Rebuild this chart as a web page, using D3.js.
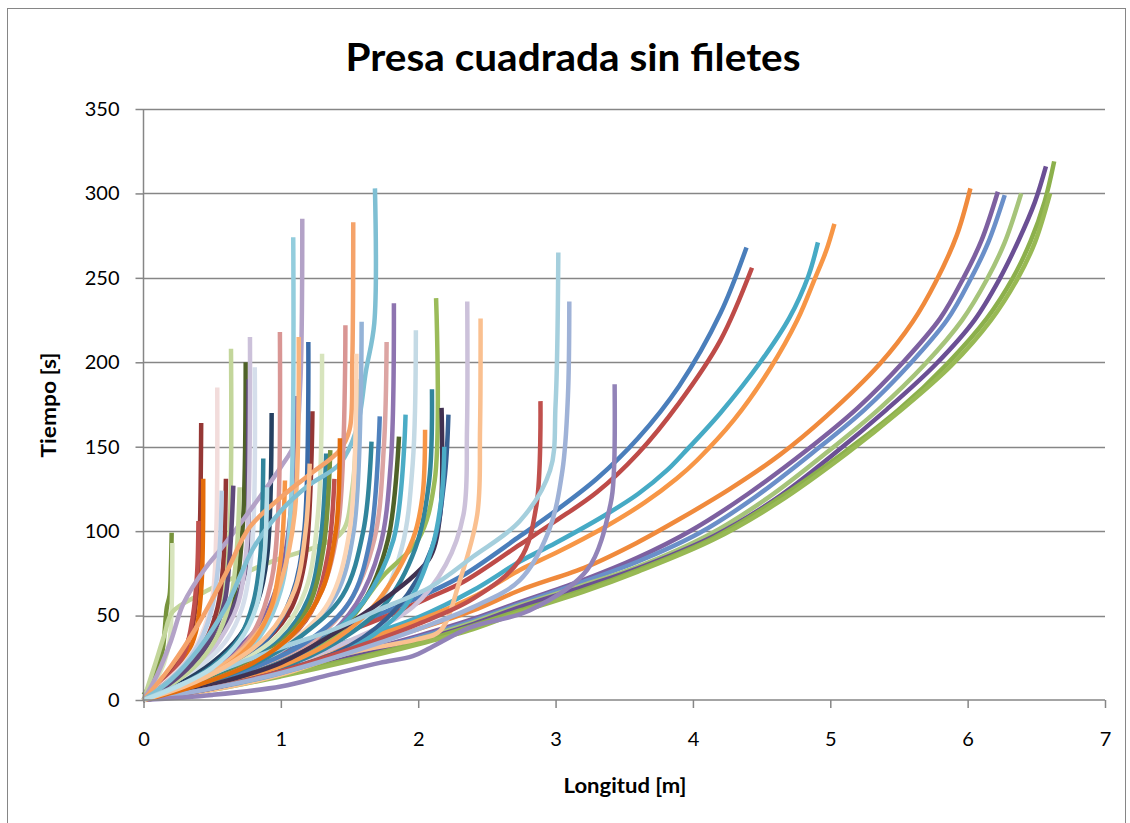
<!DOCTYPE html>
<html><head><meta charset="utf-8">
<script src="https://cdn.jsdelivr.net/npm/d3@7"></script>
<style>body{margin:0;background:#fff}svg{display:block}</style>
</head><body><svg id="c" width="1130" height="823"></svg>
<script>
const chartTitle = "Presa cuadrada sin filetes";
const xTitle = "Longitud [m]";
const yTitle = "Tiempo [s]";
const xTicks = [0,1,2,3,4,5,6,7];
const yTicks = [0,50,100,150,200,250,300,350];

// long series (right side)
const s01 = [[0,0],[0.25,7],[0.5,14],[1.0,28],[1.5,43],[1.84,55],[2.09,64],[2.33,74],[2.74,97],[3.0,112],[3.3,131],[3.6,155],[3.9,186],[4.2,229],[4.39,268]];
const s02 = [[0,0],[0.25,7],[0.5,13],[1.0,27],[1.5,41],[1.84,52],[2.09,61],[2.33,70],[2.74,92],[3.0,106],[3.3,123],[3.6,146],[3.9,176],[4.2,213],[4.43,256]];
const s03 = [[0,0],[0.25,5],[0.5,11],[1.0,23],[1.5,35],[2.0,49],[2.4,65],[2.74,82],[3.0,93],[3.35,109],[3.6,122],[3.81,136],[3.93,146],[4.2,170],[4.49,200],[4.7,226],[4.84,251],[4.91,271]];
const s04 = [[0,0],[0.25,5],[0.5,10],[1.0,22],[1.5,33],[2.0,47],[2.4,61],[2.74,77],[3.0,87],[3.35,102],[3.65,117],[3.88,131],[4.03,142],[4.3,166],[4.56,196],[4.76,225],[4.89,250],[4.97,266],[5.03,282]];
const s05 = [[0,0],[0.5,9],[1.0,19],[1.5,30],[2.0,42],[2.4,53],[2.74,65],[3.23,79],[3.59,93],[3.9,107],[4.27,125],[4.63,145],[4.97,168],[5.36,199],[5.6,224],[5.77,248],[5.92,275],[6.02,303]];
const s06 = [[0,0],[0.5,8],[1.0,17],[1.5,27],[2.0,38],[2.4,48],[2.74,58],[3.2,71],[3.59,84],[4.0,101],[4.4,122],[4.83,148],[5.2,173],[5.53,200],[5.8,226],[5.97,250],[6.1,272],[6.22,301]];
const s07 = [[0,0],[0.5,8],[1.0,16],[1.5,26],[2.0,37],[2.4,47],[2.74,57],[3.2,70],[3.6,82],[4.05,99],[4.45,120],[4.88,147],[5.25,172],[5.58,199],[5.85,225],[6.02,249],[6.15,271],[6.27,299]];
const s08 = [[0,0],[0.5,7],[1.0,16],[1.5,25],[2.0,36],[2.4,46],[2.74,56],[3.2,68],[3.6,79],[4.12,98],[4.55,120],[4.98,147],[5.35,172],[5.69,199],[5.96,225],[6.14,249],[6.27,271],[6.39,300]];
const s09 = [[0,0],[0.5,7],[1.0,15],[1.5,25],[2.0,35],[2.4,45],[2.74,55],[3.2,67],[3.6,78],[4.15,97],[4.6,119],[5.03,146],[5.41,172],[5.77,199],[6.05,225],[6.23,249],[6.37,272],[6.49,295],[6.57,316]];
const s10 = [[0,0],[0.5,7],[1.0,15],[1.5,24],[2.0,34],[2.4,44],[2.74,53],[3.2,65],[3.6,77],[4.15,96],[4.6,118],[5.09,146],[5.5,172],[5.85,199],[6.14,226],[6.33,250],[6.46,272],[6.56,295],[6.63,319]];
const s11 = [[0,0],[0.5,6],[1.0,14],[1.5,23],[2.0,33],[2.4,42],[2.74,52],[3.2,64],[3.6,76],[4.15,95],[4.62,117],[5.12,146],[5.52,172],[5.88,198],[6.17,225],[6.36,249],[6.49,271],[6.6,300]];
// short series ending with a vertical rise
const s12 = [[0,3],[0.05,9],[0.1,18],[0.14,30],[0.17,55],[0.19,62],[0.2,80],[0.205,99]];
const s13 = [[0,0],[0.05,6],[0.1,13],[0.15,22],[0.19,35],[0.205,55],[0.21,93]];
const s14 = [[0,0],[0.08,20],[0.15,38],[0.21,52],[0.4,62],[0.7,74],[1.0,84],[1.3,92],[1.45,100],[1.52,125],[1.56,190]];
const s15 = [[0,0],[0.1,8],[0.2,17],[0.3,30],[0.36,45],[0.39,65],[0.41,100],[0.42,164]];
const s16 = [[0,0],[0.1,6],[0.2,13],[0.3,24],[0.38,40],[0.42,65],[0.435,131]];
const s17 = [[0,0],[0.1,7],[0.2,15],[0.3,28],[0.36,50],[0.39,75],[0.4,106]];
const s18 = [[0,0],[0.15,10],[0.3,22],[0.42,38],[0.5,60],[0.53,100],[0.537,185]];
const s19 = [[0,0],[0.15,9],[0.3,20],[0.45,35],[0.56,55],[0.62,90],[0.637,208]];
const s20 = [[0,0],[0.2,10],[0.4,24],[0.55,40],[0.66,62],[0.72,100],[0.744,200]];
const s21 = [[0,0],[0.2,9],[0.4,22],[0.55,38],[0.68,60],[0.75,80],[0.76,140],[0.765,190]];
const s22 = [[0,0],[0.2,8],[0.4,20],[0.55,35],[0.68,55],[0.75,90],[0.775,215]];
const s23 = [[0,0],[0.2,8],[0.4,19],[0.6,35],[0.72,55],[0.79,90],[0.81,197]];
const s24 = [[0,0],[0.25,9],[0.5,22],[0.7,38],[0.83,58],[0.9,85],[0.933,170]];
const s25 = [[0,0],[0.15,9],[0.3,20],[0.45,35],[0.54,55],[0.58,80],[0.6,131]];
const s26 = [[0,0],[0.3,8],[0.6,20],[0.9,36],[1.08,55],[1.18,85],[1.23,171]];
const s27 = [[0,0],[0.1,15],[0.2,35],[0.29,57],[0.45,78],[0.56,89],[0.8,115],[1.0,138],[1.1,152],[1.14,185],[1.156,285]];
const s28 = [[0,0],[0.3,10],[0.6,25],[0.85,45],[1.0,75],[1.07,110],[1.1,180]];
const s29 = [[0,0],[0.3,8],[0.6,20],[0.85,38],[1.0,65],[1.07,110],[1.09,274]];
const s30 = [[0,0],[0.3,9],[0.6,22],[0.8,40],[0.93,70],[0.98,110],[0.993,218]];
const s31 = [[0,0],[0.3,9],[0.6,22],[0.85,42],[1.0,70],[1.1,110],[1.13,215]];
const s32 = [[0,0],[0.3,8],[0.6,19],[0.9,36],[1.08,62],[1.17,100],[1.2,212]];
const s33 = [[0,0],[0.25,8],[0.5,20],[0.7,37],[0.8,58],[0.85,85],[0.872,143]];
const s34 = [[0,0],[0.2,9],[0.4,22],[0.55,40],[0.64,62],[0.68,90],[0.7,126]];
const s35 = [[0,0],[0.35,9],[0.7,22],[1.0,40],[1.18,65],[1.27,110],[1.3,205]];
const s36 = [[0,0],[0.35,8],[0.7,20],[1.0,36],[1.2,60],[1.29,95],[1.33,146]];
const s37 = [[0,0],[0.35,8],[0.7,19],[1.0,34],[1.2,55],[1.31,90],[1.36,148]];
const s38 = [[0,0],[0.35,7],[0.7,18],[1.0,32],[1.22,52],[1.34,85],[1.39,131]];
const s39 = [[0,0],[0.15,9],[0.3,21],[0.42,36],[0.5,55],[0.55,85],[0.57,124]];
const s40 = [[0,0],[0.18,9],[0.35,21],[0.5,38],[0.59,58],[0.63,88],[0.654,127]];
const s41 = [[0,0],[0.3,8],[0.6,20],[0.8,35],[0.93,55],[1.0,85],[1.03,130]];
const s42 = [[0,0],[0.2,20],[0.4,45],[0.6,75],[0.77,102],[1.0,120],[1.2,133],[1.43,148],[1.5,160],[1.52,200],[1.527,283]];
const s43 = [[0,0],[0.2,12],[0.4,30],[0.6,55],[0.8,90],[1.0,112],[1.2,127],[1.43,140],[1.55,160],[1.62,195],[1.68,223],[1.685,303]];
const s44 = [[0,0],[0.4,9],[0.8,22],[1.1,40],[1.3,65],[1.42,105],[1.47,222]];
const s45 = [[0,0],[0.4,8],[0.8,20],[1.15,38],[1.4,62],[1.53,100],[1.588,224]];
const s46 = [[0,0],[0.4,8],[0.8,20],[1.1,36],[1.35,58],[1.5,100],[1.55,205]];
const s47 = [[0,0],[0.45,8],[0.9,20],[1.25,36],[1.5,58],[1.68,95],[1.75,150],[1.77,212]];
const s48 = [[0,0],[0.45,8],[0.9,19],[1.3,35],[1.55,57],[1.72,90],[1.8,140],[1.823,235]];
const s49 = [[0,0],[0.5,8],[1.0,19],[1.4,34],[1.7,55],[1.88,90],[1.96,140],[1.983,219]];
const s50 = [[0,0],[0.5,8],[1.0,20],[1.4,38],[1.74,73],[2.0,95],[2.12,130],[2.13,238]];
const s51 = [[0,0],[0.5,8],[1.0,19],[1.5,35],[1.96,55],[2.2,80],[2.33,110],[2.355,160],[2.357,236]];
const s52 = [[0,0],[0.5,6],[1.0,15],[1.5,28],[2.0,36],[2.16,41],[2.3,70],[2.43,110],[2.45,160],[2.454,226]];
const s53 = [[0,0],[0.4,8],[0.8,19],[1.2,35],[1.5,58],[1.65,95],[1.72,168]];
const s54 = [[0,0],[0.4,9],[0.8,21],[1.15,38],[1.45,62],[1.6,100],[1.66,153]];
const s55 = [[0,0],[0.45,8],[0.9,19],[1.3,35],[1.6,58],[1.78,95],[1.86,156]];
const s56 = [[0,0],[0.45,8],[0.9,19],[1.3,35],[1.6,58],[1.82,95],[1.908,169]];
const s57 = [[0,0],[0.5,8],[1.0,19],[1.4,34],[1.75,56],[1.98,90],[2.08,130],[2.1,184]];
const s58 = [[0,0],[0.5,8],[1.0,20],[1.4,36],[1.7,58],[1.96,95],[2.03,120],[2.05,160]];
const s59 = [[0,0],[0.5,9],[1.0,22],[1.4,40],[1.84,65],[1.96,73],[2.09,85],[2.16,110],[2.17,173]];
const s60 = [[0,0],[0.5,7],[1.0,17],[1.5,32],[1.85,55],[2.1,90],[2.19,130],[2.22,169]];
const s61 = [[0,0],[0.5,7],[1.0,16],[1.5,30],[1.9,55],[2.1,90],[2.17,120],[2.19,150]];
const s62 = [[0,0],[0.5,7],[1.0,17],[1.5,30],[2.0,45],[2.4,60],[2.74,83],[2.86,115],[2.89,177]];
const s63 = [[0,0],[0.3,10],[0.7,22],[1.0,31],[1.36,41],[1.7,53],[2.09,67],[2.4,85],[2.74,106],[2.96,136],[3.0,175],[3.02,265]];
const s64 = [[0,0],[0.5,7],[1.0,16],[1.5,28],[2.0,42],[2.4,55],[2.74,71],[2.95,100],[3.05,136],[3.09,180],[3.1,236]];
const s65 = [[0,0],[0.5,3],[1.0,8],[1.36,15],[1.72,22],[1.96,26],[2.09,31],[2.38,43],[2.81,53],[3.23,77],[3.4,116],[3.425,136],[3.43,187]];
const s66 = [[0,0],[0.4,9],[0.8,22],[1.1,40],[1.3,65],[1.4,100],[1.43,155]];
const s67 = [[0,0],[0.3,8],[0.6,20],[0.9,38],[1.1,65],[1.18,100],[1.21,140]];
const s68 = [[0,0],[0.25,8],[0.5,19],[0.7,35],[0.82,55],[0.88,85],[0.9,126]];

const seriesList = [s01,s02,s03,s04,s05,s06,s07,s08,s09,s10,s11,s12,s13,s14,s15,s16,s17,s18,s19,s20,s21,s22,s23,s24,s25,s26,s27,s28,s29,s30,s31,s32,s33,s34,s35,s36,s37,s38,s39,s40,s41,s42,s43,s44,s45,s46,s47,s48,s49,s50,s51,s52,s53,s54,s55,s56,s57,s58,s59,s60,s61,s62,s63,s64,s65,s66,s67,s68];
const seriesColors = ["#4A7EBB","#BE4B48","#46AAC5","#F79646","#F08A3C","#7D60A0","#6A8FC9","#A6C47A","#6B4F94","#8CB04C","#98B954",
"#77933C","#D7E4BD","#C3D69B","#953735","#E46C0A","#C0504D","#F2DCDB","#C3D69B","#4F6228","#5F497A","#CCC1DA","#D5DEEB","#254061","#953735","#943634","#B3A2C7","#8064A2","#93CDDD","#D99694","#F9B47C","#3A6BA8","#31859C","#C3D69B","#D7E4BD","#31859C","#76923C","#C0504D","#B9CDE5","#604A7B","#F79646","#F5A36A","#7FBFD3","#D99694","#95B3D7","#FCD5B5","#DCA5A3","#8E74B0","#C4DAE5","#9BBB59","#CCC1DA","#FAC090","#4F81BD","#31859C","#4F6228","#4BACC6","#31859C","#F79646","#403151","#376092","#4BACC6","#C0504D","#A5CFDD","#9FB2D7","#9283B8","#E46C0A","#FAC090","#B7DEE8"];

const svg = d3.select("#c");
const W = 1130, H = 823;
const x = d3.scaleLinear().domain([0,7]).range([143.5,1105]);
const y = d3.scaleLinear().domain([0,350]).range([700,109]);
const grey = "#868686";
const font = "Lato, 'Open Sans', sans-serif";

svg.append("rect").attr("x",0).attr("y",0).attr("width",W).attr("height",H).attr("fill","#fff");
svg.append("rect").attr("x",7.5).attr("y",8.5).attr("width",1118).attr("height",830).attr("fill","none").attr("stroke",grey).attr("stroke-width",1);

// gridlines
svg.append("g").selectAll("line").data(yTicks.filter(d=>d>0)).join("line")
  .attr("x1",x(0)).attr("x2",x(7)).attr("y1",d=>Math.round(y(d))+0.5).attr("y2",d=>Math.round(y(d))+0.5)
  .attr("stroke",grey).attr("stroke-width",1.3);

// series
const line = d3.line().x(d=>x(d[0])).y(d=>y(d[1])).curve(d3.curveCatmullRom.alpha(0.5));
svg.append("g").selectAll("path").data(seriesList).join("path")
  .attr("d",line).attr("fill","none")
  .attr("stroke",(d,i)=>seriesColors[i]).attr("stroke-width",4.5)
  .attr("stroke-linejoin","round").attr("stroke-linecap","butt");

// axes
const yAxis = d3.axisLeft(y).tickValues(yTicks).tickSize(8).tickPadding(16).tickFormat(d3.format("d"));
const gy = svg.append("g").attr("transform",`translate(${x(0)},0)`).call(yAxis);
const xAxis = d3.axisBottom(x).tickValues(xTicks).tickSize(8).tickPadding(24).tickFormat(d3.format("d"));
const gx = svg.append("g").attr("transform",`translate(0,${y(0)})`).call(xAxis);
[gx,gy].forEach(g=>{
  g.selectAll(".domain").attr("stroke",grey).attr("stroke-width",1.5);
  g.selectAll(".tick line").attr("stroke",grey).attr("stroke-width",1.5);
  g.selectAll(".tick text").attr("fill","#000").style("font-family",font).style("font-size","20px");
});
gy.select(".domain").attr("d",`M0,${y(350)}V${y(0)}`);
gx.select(".domain").attr("d",`M${x(0)},0H${x(7)}`);

svg.append("text").attr("x",573).attr("y",71).attr("text-anchor","middle")
  .style("font-family",font).style("font-size","38px").style("font-weight","700").attr("fill","#000")
  .attr("textLength",455).attr("lengthAdjust","spacingAndGlyphs").text(chartTitle);
svg.append("text").attr("x",625).attr("y",793).attr("text-anchor","middle")
  .style("font-family",font).style("font-size","20px").style("font-weight","700").attr("fill","#000")
  .attr("textLength",123).attr("lengthAdjust","spacingAndGlyphs").text(xTitle);
svg.append("text").attr("transform","translate(56,405) rotate(-90)").attr("text-anchor","middle")
  .style("font-family",font).style("font-size","20px").style("font-weight","700").attr("fill","#000")
  .attr("textLength",105).attr("lengthAdjust","spacingAndGlyphs").text(yTitle);
</script></body></html>
